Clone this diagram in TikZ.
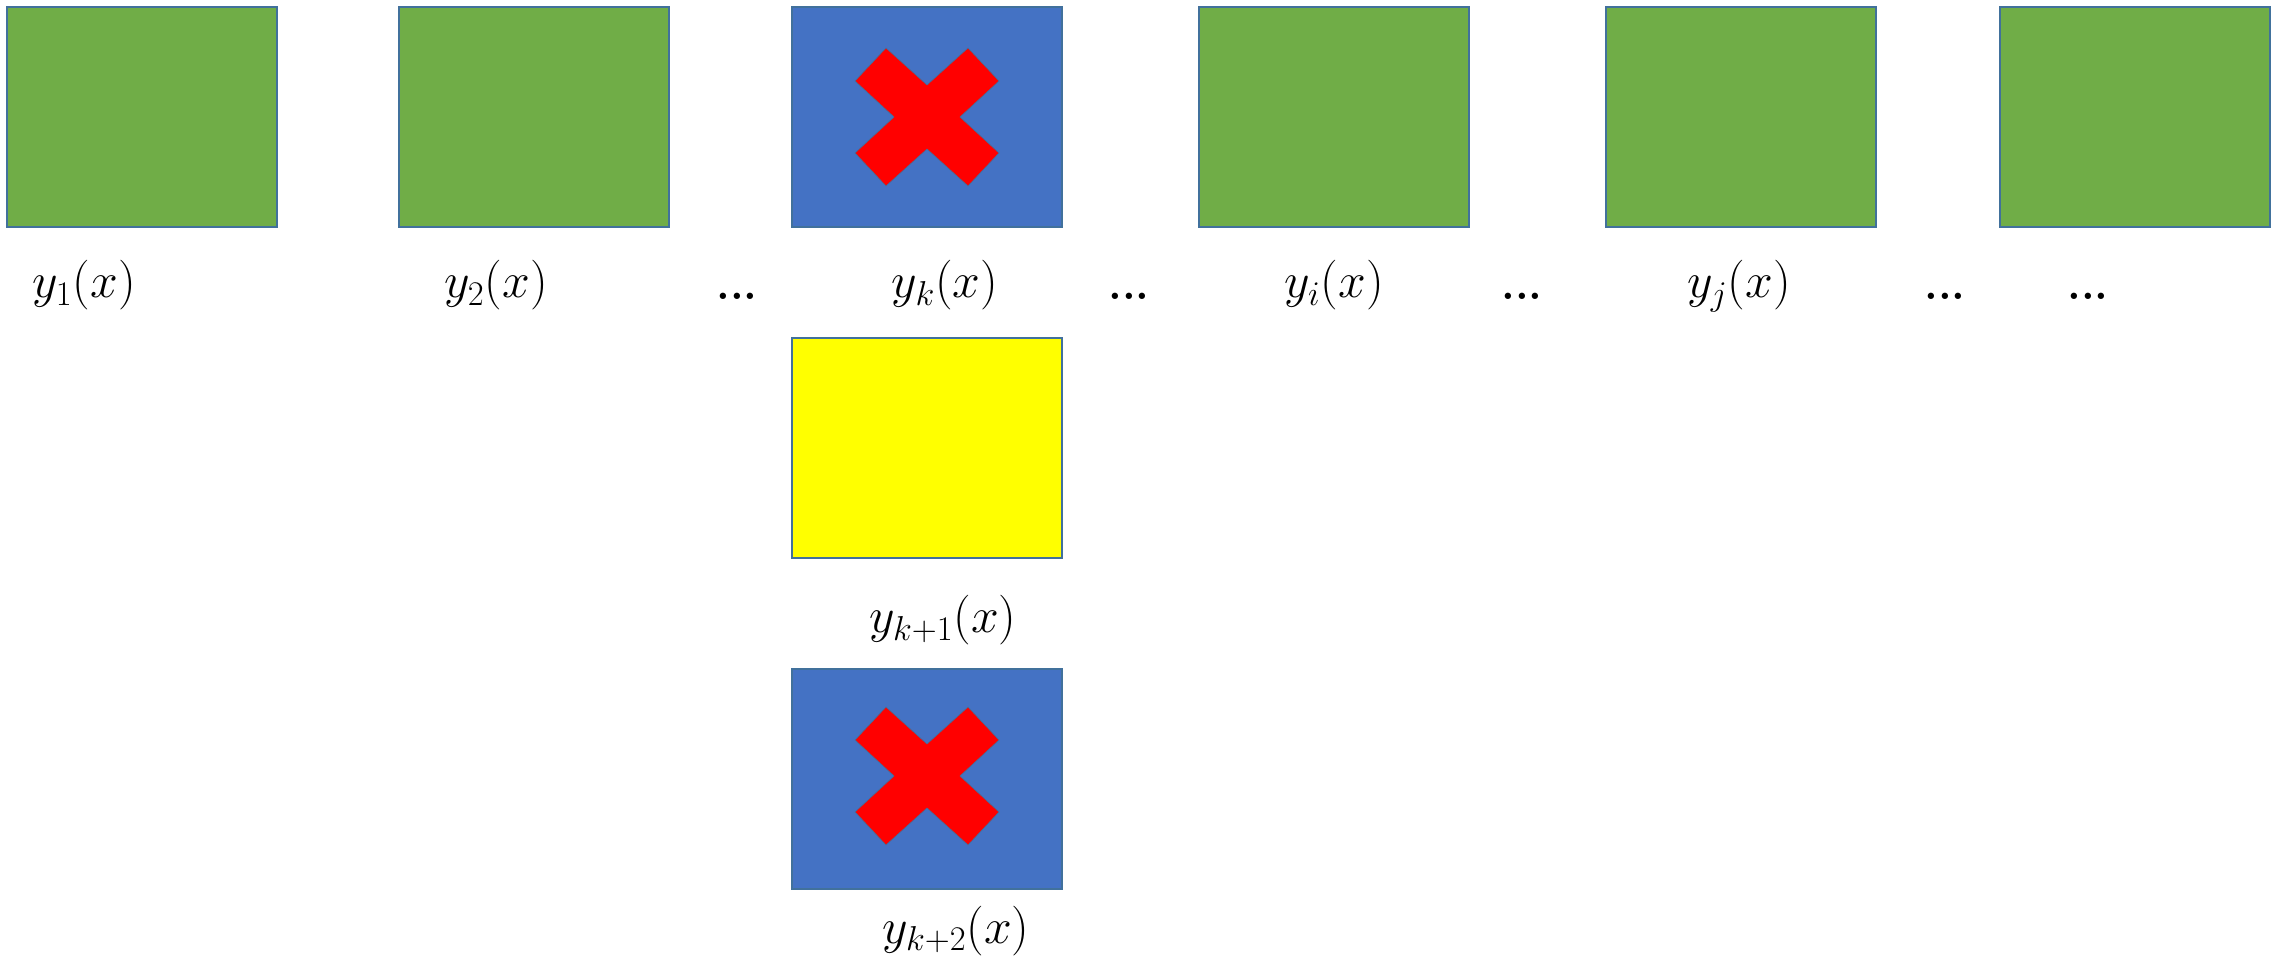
\documentclass[tikz,border=0pt]{standalone}
\begin{document}
\begin{tikzpicture}[x=0.5pt,y=-0.5pt,
  cell/.style={draw=edgec,line width=1pt,minimum width=135pt,minimum height=110pt,inner sep=0pt,outer sep=0pt},
  good/.style={cell,fill=goodg},
  bad/.style={cell,fill=badb},
  warn/.style={cell,fill=warny},
  lab/.style={anchor=base,inner sep=0pt,font=\fontsize{26}{30}\selectfont},
  dots/.style={anchor=base,inner sep=0pt,font=\fontsize{22}{26}\selectfont\bfseries},
  redx/.pic={\fill[red,draw=edgec,line width=0.3pt]
     (-41,-69)--(0,-32)--(41,-69)--(72,-36)--(33,0)--(72,36)--(41,69)--(0,32)--(-41,69)--(-72,36)--(-33,0)--(-72,-36)--cycle;}]
\definecolor{edgec}{HTML}{41719C}
\definecolor{goodg}{HTML}{70AD47}
\definecolor{badb}{HTML}{4472C4}
\definecolor{warny}{HTML}{FFFF00}
\useasboundingbox (0,0) rectangle (2282,956);
% top row
\node[good] (b1) at (142,117) {};
\node[good] (b2) at (534,117) {};
\node[bad]  (bk) at (927,117) {};
\node[good] (bi) at (1334,117) {};
\node[good] (bj) at (1741,117) {};
\node[good] (b6) at (2135,117) {};
\pic at (bk.center) {redx};
% column below k
\node[warn] (bk1) at (927,448) {};
\node[bad]  (bk2) at (927,779) {};
\pic at (927,776) {redx};
% labels
\node[lab] (l1) at (84,298) {$y_1(x)$};
\node[lab] (l2) at (496,298) {$y_2(x)$};
\node[dots] (d1) at (737,300) {...};
\node[lab] (lk) at (945,298) {$y_k(x)$};
\node[dots] (d2) at (1129,300) {...};
\node[lab] (li) at (1334,298) {$y_i(x)$};
\node[dots] (d3) at (1522,300) {...};
\node[lab] (lj) at (1739,298) {$y_j(x)$};
\node[dots] (d4) at (1945,300) {...};
\node[dots] (d5) at (2088,300) {...};
\node[lab] (lk1) at (943,633) {$y_{k+1}(x)$};
\node[lab] (lk2) at (956,943) {$y_{k+2}(x)$};
\end{tikzpicture}
\end{document}
